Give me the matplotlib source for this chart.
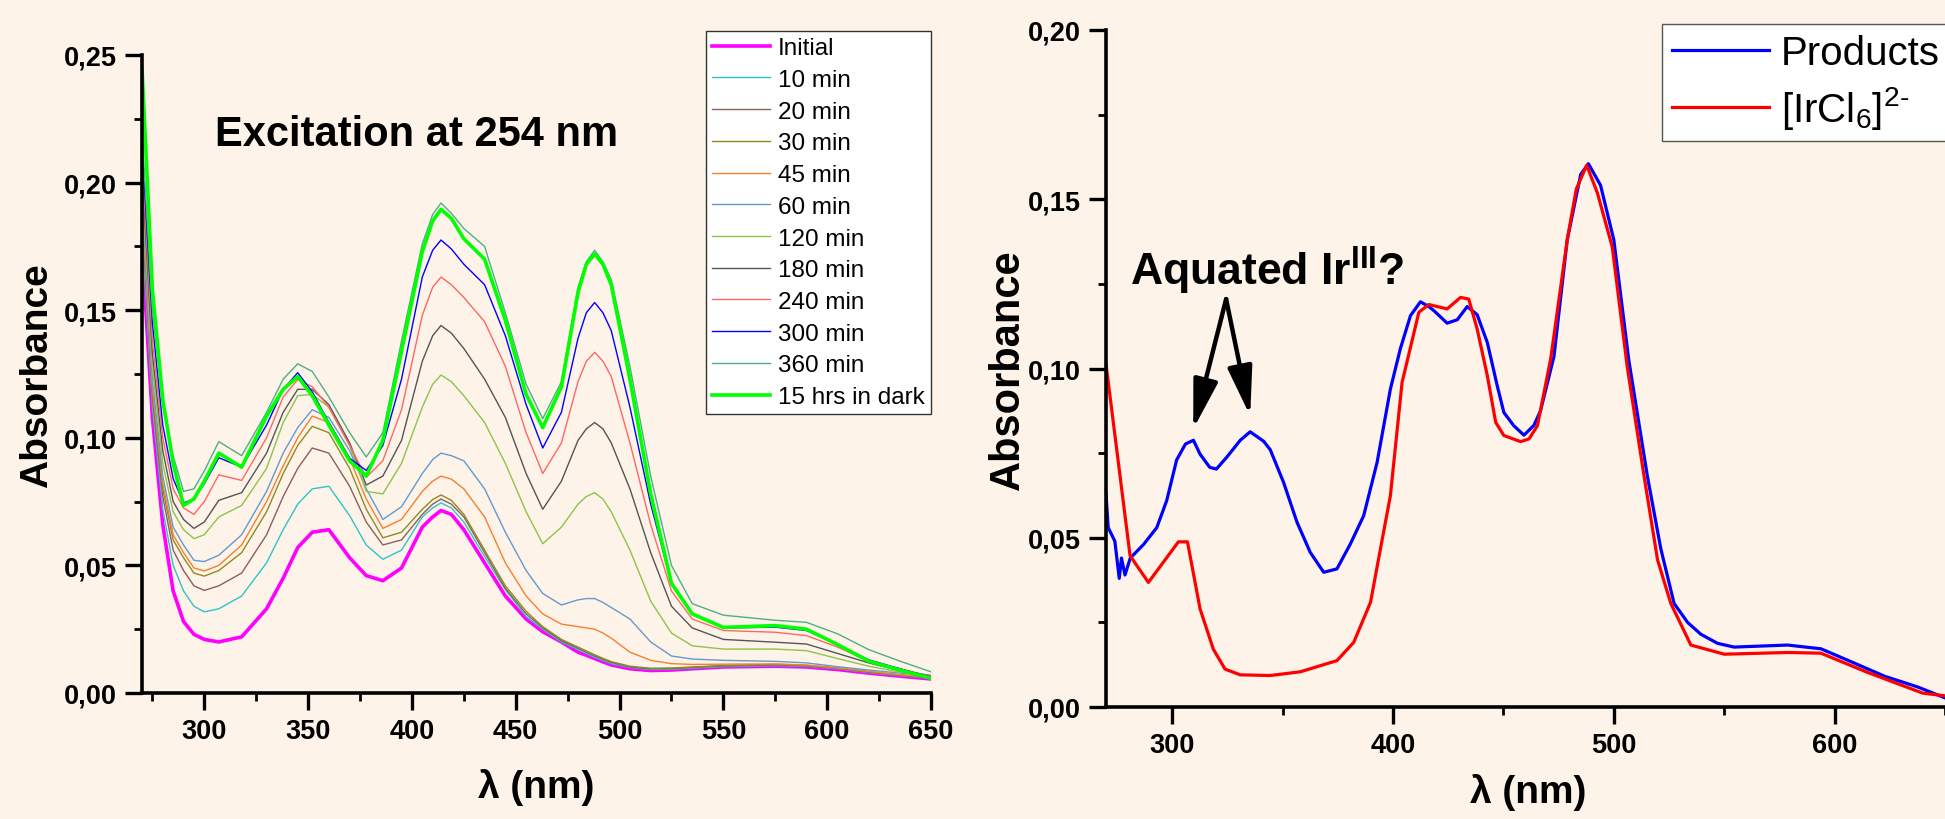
import matplotlib
matplotlib.use("Agg")
import matplotlib.pyplot as plt
from matplotlib.ticker import FuncFormatter, MultipleLocator

plt.rcParams["font.family"] = ["Liberation Sans", "DejaVu Sans"]
plt.rcParams["mathtext.fontset"] = "custom"
plt.rcParams["mathtext.rm"] = "Liberation Sans"
plt.rcParams["mathtext.bf"] = "Liberation Sans:bold"

BG = "#fdf3e8"

# left panel: spectra during photolysis (nm / absorbance)
WAVELENGTH = [270, 275, 280, 285, 290, 295, 300, 307, 318, 330, 338,
              345, 352, 360, 370, 378, 386, 395, 405, 410, 414, 419, 425,
              435, 445, 455, 463, 472, 480, 484, 488, 492, 496, 505, 515,
              525, 535, 550, 575, 590, 605, 620, 635, 650]

INITIAL = [0.175, 0.108, 0.066, 0.040, 0.028, 0.023, 0.021, 0.020, 0.022, 0.033, 0.045,
           0.057, 0.063, 0.064, 0.053, 0.046, 0.044, 0.049, 0.065, 0.069, 0.0715, 0.070, 0.064,
           0.051, 0.038, 0.029, 0.024, 0.020, 0.016, 0.0148, 0.0135, 0.0122, 0.011, 0.0095, 0.0088,
           0.009, 0.0095, 0.0102, 0.0105, 0.0102, 0.0092, 0.0078, 0.0066, 0.0055]
MIN_10 = [0.182, 0.112, 0.072, 0.050, 0.040, 0.034, 0.0318, 0.033, 0.038, 0.051, 0.064,
          0.074, 0.080, 0.081, 0.0695, 0.058, 0.0524, 0.056, 0.069, 0.0725, 0.0745, 0.0725, 0.067,
          0.0535, 0.0405, 0.030, 0.025, 0.020, 0.017, 0.0155, 0.014, 0.0128, 0.0115, 0.010, 0.0092,
          0.0093, 0.0097, 0.0103, 0.0107, 0.0104, 0.0095, 0.008, 0.0068, 0.0058]
MIN_20 = [0.188, 0.116, 0.077, 0.056, 0.048, 0.042, 0.0402, 0.042, 0.047, 0.062, 0.077,
          0.088, 0.096, 0.094, 0.081, 0.067, 0.058, 0.060, 0.070, 0.074, 0.076, 0.074, 0.069,
          0.055, 0.041, 0.031, 0.0255, 0.0205, 0.0175, 0.016, 0.0145, 0.0132, 0.012, 0.0102, 0.0095,
          0.0096, 0.010, 0.0106, 0.011, 0.0106, 0.0097, 0.0082, 0.007, 0.006]
MIN_30 = [0.190, 0.118, 0.080, 0.060, 0.053, 0.047, 0.0458, 0.048, 0.055, 0.071, 0.086,
          0.097, 0.1045, 0.102, 0.088, 0.072, 0.0608, 0.063, 0.072, 0.0758, 0.0776, 0.0755, 0.070,
          0.056, 0.042, 0.032, 0.026, 0.021, 0.018, 0.0165, 0.015, 0.0136, 0.0123, 0.0105, 0.0097,
          0.0098, 0.0102, 0.0108, 0.0112, 0.0108, 0.0098, 0.0083, 0.007, 0.006]
MIN_45 = [0.192, 0.120, 0.082, 0.062, 0.055, 0.049, 0.0478, 0.050, 0.058, 0.075, 0.089,
          0.100, 0.1085, 0.106, 0.092, 0.076, 0.0645, 0.068, 0.079, 0.083, 0.085, 0.0838, 0.080,
          0.069, 0.051, 0.038, 0.031, 0.027, 0.026, 0.0255, 0.025, 0.0235, 0.0215, 0.016, 0.0128,
          0.0115, 0.0112, 0.0113, 0.0114, 0.011, 0.0098, 0.0085, 0.0072, 0.0062]
MIN_60 = [0.195, 0.123, 0.085, 0.065, 0.058, 0.052, 0.0515, 0.054, 0.062, 0.079, 0.094,
          0.104, 0.111, 0.108, 0.095, 0.080, 0.068, 0.073, 0.086, 0.0915, 0.094, 0.093, 0.091,
          0.080, 0.063, 0.048, 0.039, 0.0345, 0.0365, 0.037, 0.037, 0.0355, 0.0335, 0.029, 0.020,
          0.0145, 0.0133, 0.0128, 0.0124, 0.0118, 0.0103, 0.009, 0.0078, 0.0068]
MIN_120 = [0.200, 0.128, 0.090, 0.071, 0.064, 0.0605, 0.062, 0.069, 0.0735, 0.088, 0.106,
           0.1165, 0.117, 0.112, 0.097, 0.079, 0.078, 0.090, 0.112, 0.121, 0.1246, 0.122, 0.1165,
           0.106, 0.090, 0.071, 0.0585, 0.065, 0.074, 0.077, 0.0785, 0.076, 0.071, 0.056, 0.036,
           0.0235, 0.0185, 0.0172, 0.0172, 0.0166, 0.0135, 0.0105, 0.0082, 0.0062]
MIN_180 = [0.205, 0.133, 0.095, 0.075, 0.068, 0.0645, 0.067, 0.0755, 0.0785, 0.094, 0.110,
           0.119, 0.119, 0.113, 0.098, 0.0815, 0.085, 0.099, 0.130, 0.140, 0.144, 0.141, 0.135,
           0.123, 0.108, 0.086, 0.072, 0.083, 0.099, 0.1035, 0.106, 0.1035, 0.098, 0.080, 0.055,
           0.034, 0.0255, 0.021, 0.0199, 0.0192, 0.0155, 0.0118, 0.0088, 0.0068]
MIN_240 = [0.210, 0.138, 0.100, 0.080, 0.0725, 0.070, 0.075, 0.0855, 0.0833, 0.100, 0.116,
           0.1228, 0.120, 0.112, 0.097, 0.0845, 0.091, 0.111, 0.148, 0.159, 0.163, 0.160, 0.155,
           0.1455, 0.128, 0.102, 0.086, 0.098, 0.122, 0.130, 0.1335, 0.130, 0.124, 0.098, 0.066,
           0.040, 0.029, 0.0245, 0.0238, 0.0225, 0.018, 0.0125, 0.0095, 0.0065]
MIN_300 = [0.215, 0.145, 0.105, 0.084, 0.0745, 0.076, 0.082, 0.0922, 0.0885, 0.105, 0.119,
           0.1255, 0.118, 0.106, 0.092, 0.0872, 0.097, 0.123, 0.163, 0.1735, 0.1775, 0.174, 0.168,
           0.160, 0.140, 0.113, 0.096, 0.110, 0.139, 0.149, 0.153, 0.149, 0.142, 0.112, 0.074,
           0.043, 0.031, 0.0255, 0.0258, 0.0245, 0.019, 0.013, 0.0095, 0.0062]
MIN_360 = [0.220, 0.150, 0.113, 0.093, 0.079, 0.080, 0.087, 0.0985, 0.093, 0.110, 0.123,
           0.129, 0.126, 0.116, 0.102, 0.0925, 0.102, 0.138, 0.176, 0.1875, 0.192, 0.188, 0.182,
           0.175, 0.149, 0.121, 0.1075, 0.122, 0.159, 0.169, 0.1735, 0.169, 0.162, 0.128, 0.085,
           0.050, 0.035, 0.0305, 0.0285, 0.0277, 0.0232, 0.017, 0.0125, 0.0083]
DARK_15H = [0.245, 0.158, 0.115, 0.090, 0.0735, 0.076, 0.083, 0.094, 0.0885, 0.1085, 0.119,
            0.124, 0.1165, 0.105, 0.091, 0.085, 0.099, 0.134, 0.173, 0.185, 0.1895, 0.186, 0.178,
            0.170, 0.146, 0.117, 0.104, 0.120, 0.157, 0.168, 0.172, 0.168, 0.160, 0.123, 0.078,
            0.043, 0.031, 0.0257, 0.0264, 0.025, 0.019, 0.0125, 0.009, 0.0058]

SERIES = [INITIAL, MIN_10, MIN_20, MIN_30, MIN_45, MIN_60,
          MIN_120, MIN_180, MIN_240, MIN_300, MIN_360, DARK_15H]
SERIES_LABELS = ["Initial", "10 min", "20 min", "30 min", "45 min", "60 min",
                 "120 min", "180 min", "240 min", "300 min", "360 min", "15 hrs in dark"]
SERIES_COLORS = ["#ff00ff", "#2ec4c9", "#8c5e5e", "#8c8c1e", "#f77f2e", "#6699cc",
                 "#8dc44a", "#555555", "#ff6666", "#0000ff", "#4fae86", "#00ff00"]
THICK = {"Initial", "15 hrs in dark"}

# right panel: products vs [IrCl6]2-
PRODUCTS_WL = [270, 271, 274, 276, 277, 278.6, 281, 287, 293, 297.5,
               302, 306, 309.6, 312.6, 317, 320, 324.7, 330.8, 335.3, 341.4,
               344.4, 350.4, 356.5, 362.5, 368.6, 374.6, 380.7, 386.7, 392.8, 398.8,
               403.3, 407.9, 412.4, 416.2, 418.5, 424.5, 429.1, 433.6, 438.1, 442.7,
               447.2, 450.2, 454.7, 459.3, 463.8, 466.8, 472.9, 478.9, 485, 488.5,
               494, 500, 506.8, 515.2, 521.3, 527.3, 533.4, 539.4, 547, 554.5,
               578.7, 593.8, 607.4, 622.6, 637.7, 650]
PRODUCTS_ABS = [0.063, 0.053, 0.049, 0.038, 0.044, 0.039, 0.044, 0.048, 0.053, 0.061,
                0.073, 0.0777, 0.0788, 0.0747, 0.0708, 0.0703, 0.0738, 0.0788, 0.0813, 0.0785,
                0.076, 0.0664, 0.0546, 0.0457, 0.0398, 0.0408, 0.0482, 0.0565, 0.0723, 0.0939,
                0.1058, 0.1156, 0.1197, 0.1183, 0.1171, 0.1134, 0.1144, 0.1183, 0.1159, 0.1077,
                0.0949, 0.087, 0.0831, 0.0803, 0.0832, 0.0875, 0.1036, 0.138, 0.1573, 0.1605,
                0.1541, 0.138, 0.1024, 0.0682, 0.0467, 0.0306, 0.025, 0.0215, 0.0188, 0.0177,
                0.0183, 0.0172, 0.0134, 0.0091, 0.0059, 0.0027]

IRCL6_WL = [270, 280.9, 289.2, 302.8, 306.9, 312.6, 318.6, 323.9, 330.8, 344.4,
            358, 374.6, 382.2, 389.8, 394.3, 398.8, 404.1, 411.7, 416.2, 424.5,
            430.6, 434.3, 438.1, 442.7, 446.5, 450.2, 457.8, 461.6, 465.4, 471.4,
            478.9, 483, 487.7, 492.5, 499.3, 506.1, 513.7, 519.8, 525.8, 534.9,
            550, 578.7, 593.8, 615, 639.9, 650]
IRCL6_ABS = [0.1013, 0.0447, 0.0368, 0.0488, 0.0488, 0.029, 0.0171, 0.0112, 0.0095, 0.0093,
             0.0104, 0.0137, 0.0191, 0.0309, 0.0467, 0.0624, 0.0959, 0.1166, 0.1189, 0.1176,
             0.121, 0.1205, 0.1117, 0.0979, 0.0841, 0.0802, 0.0784, 0.0792, 0.0831, 0.1028,
             0.138, 0.153, 0.160, 0.152, 0.1359, 0.1004, 0.0682, 0.0435, 0.0306, 0.0183,
             0.0156, 0.0161, 0.0159, 0.0102, 0.0041, 0.0033]

# arrows of the "Aquated Ir(III)?" note: (tail, head) in data units
ARROW_TAIL = (324.4, 0.1205)
ARROW_HEADS = [(309.5, 0.0821), (335.3, 0.086)]


def comma_fmt(v, _pos):
    return f"{v:.2f}".replace(".", ",")


def style_axes(ax, x_major, x_minor, y_major, y_minor, ylim):
    ax.set_facecolor(BG)
    ax.set_xlim(270, 650)
    ax.set_ylim(*ylim)
    ax.xaxis.set_major_locator(MultipleLocator(x_major))
    ax.xaxis.set_minor_locator(MultipleLocator(x_minor))
    ax.yaxis.set_major_locator(MultipleLocator(y_major))
    ax.yaxis.set_minor_locator(MultipleLocator(y_minor))
    ax.yaxis.set_major_formatter(FuncFormatter(comma_fmt))
    for side in ("top", "right"):
        ax.spines[side].set_visible(False)
    for side in ("left", "bottom"):
        ax.spines[side].set_linewidth(2.6)
    ax.tick_params(which="major", direction="out", length=12, width=2.4,
                   labelsize=19.5, pad=6)
    ax.tick_params(which="minor", direction="out", length=6, width=2.0)
    for lbl in ax.get_xticklabels() + ax.get_yticklabels():
        lbl.set_fontweight("bold")


def draw_left(fig):
    ax = fig.add_axes([142 / 1945, 1 - 694 / 820, 789 / 1945, 638 / 820])
    for values, label, color in zip(SERIES, SERIES_LABELS, SERIES_COLORS):
        lw = 2.6 if label in THICK else 1.0
        ax.plot(WAVELENGTH, values, color=color, lw=lw, label=label)
    style_axes(ax, 50, 25, 0.05, 0.025, (0, 0.25))
    ax.legend(loc="upper left", bbox_to_anchor=(706 / 1945, 1 - 32 / 820),
              bbox_transform=fig.transFigure, borderaxespad=0, fontsize=17.5,
              frameon=True, fancybox=False, framealpha=1, edgecolor="#333333",
              handlelength=2.4, handletextpad=0.3, borderpad=0.25, labelspacing=0.4)
    fig.text(417 / 1945, 1 - 135 / 820, "Excitation at 254 nm", ha="center",
             va="center", fontsize=30, fontweight="bold")
    fig.text(37 / 1945, 1 - 376 / 820, "Absorbance", rotation=90, ha="center",
             va="center", fontsize=28, fontweight="bold")
    fig.text(536 / 1945, 1 - 788 / 820, "λ (nm)", ha="center", va="center",
             fontsize=28, fontweight="bold")


def draw_right(fig):
    ax = fig.add_axes([1106 / 1945, 1 - 708 / 820, 839 / 1945, 677 / 820])
    ax.plot(PRODUCTS_WL, PRODUCTS_ABS, color="#0000ff", lw=2.3, label="Products")
    ax.plot(IRCL6_WL, IRCL6_ABS, color="#ff0000", lw=2.3,
            label=r"[IrCl$_6$]$^{2\text{-}}$")
    style_axes(ax, 100, 50, 0.05, 0.025, (0, 0.20))
    for head in ARROW_HEADS:
        ax.annotate("", xy=head, xytext=ARROW_TAIL,
                    arrowprops=dict(arrowstyle="-|>,head_length=1.0,head_width=0.25",
                                    lw=3.2, color="black", mutation_scale=30,
                                    shrinkA=0, shrinkB=0))
    ax.legend(loc="upper left", bbox_to_anchor=(1662 / 1945, 1 - 25 / 820),
              bbox_transform=fig.transFigure, borderaxespad=0, fontsize=29,
              frameon=True, fancybox=False, framealpha=1, edgecolor="#555555",
              handlelength=2.4, handletextpad=0.3, borderpad=0.25, labelspacing=0.3)
    fig.text(1130 / 1945, 1 - 286 / 820, r"Aquated Ir$^{\mathbf{III}}$?",
             ha="left", va="baseline", fontsize=32, fontweight="bold")
    fig.text(1008 / 1945, 1 - 370 / 820, "Absorbance", rotation=90, ha="center",
             va="center", fontsize=30, fontweight="bold")
    fig.text(1528 / 1945, 1 - 793 / 820, "λ (nm)", ha="center", va="center",
             fontsize=28, fontweight="bold")


def run():
    fig = plt.figure(figsize=(19.45, 8.2), dpi=100, facecolor=BG)
    draw_left(fig)
    draw_right(fig)
    fig.savefig("out.png", dpi=100, facecolor=BG)
    plt.close(fig)


if __name__ == "__main__":
    run()
